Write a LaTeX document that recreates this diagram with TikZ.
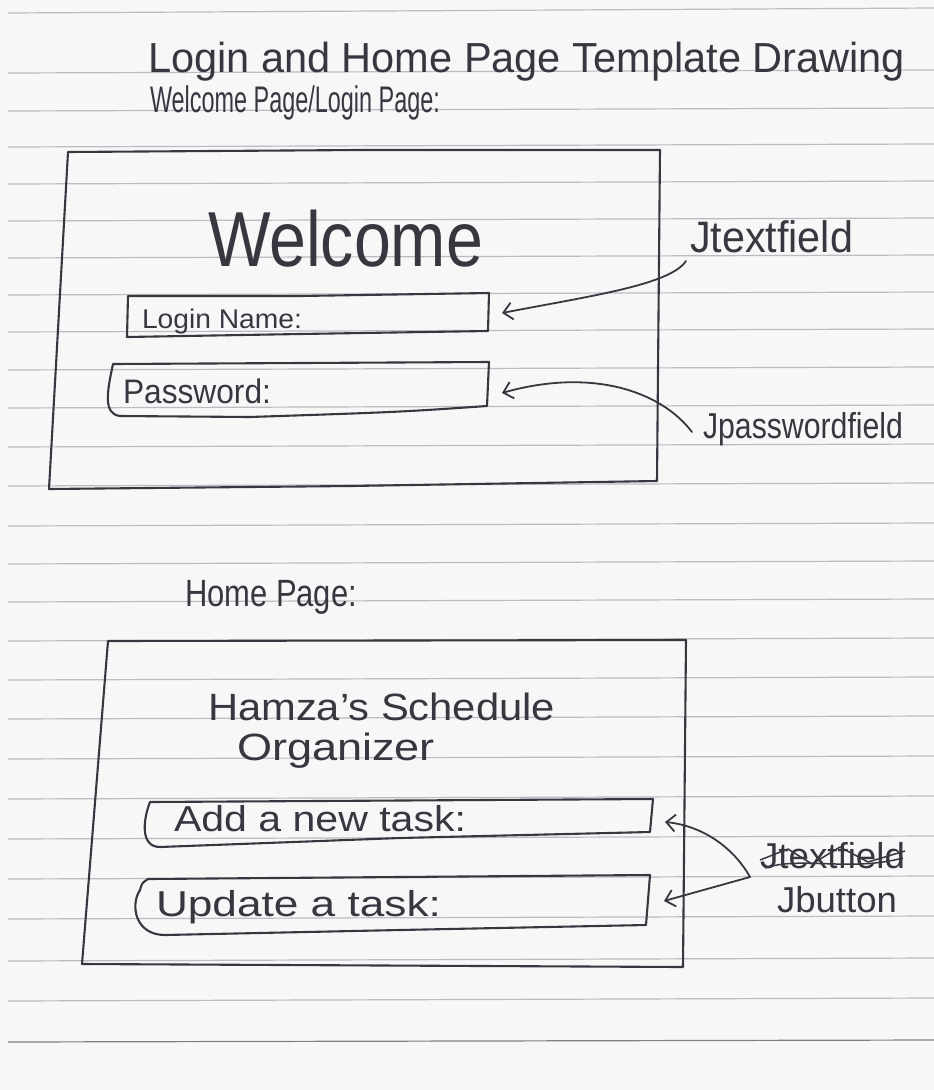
\documentclass[tikz,border=0pt]{standalone}
\usepackage{fontspec}
\setmainfont{Liberation Sans}
\usepackage{graphicx}
\usetikzlibrary{arrows.meta}
\definecolor{ink}{HTML}{3A3640}
\definecolor{rulegray}{HTML}{B9BDC2}
\definecolor{paper}{HTML}{F7F7F8}
\newcommand\hw[3]{\resizebox{#2pt}{\height}{\fontsize{#1}{#1}\selectfont #3}}
\begin{document}
\begin{tikzpicture}[x=1pt,y=-1pt,
  lbl/.style={anchor=base west,inner sep=0pt,outer sep=0pt,text=ink},
  frame/.style={draw=ink,line width=2.1pt,line join=round,line cap=round},
  ruling/.style={draw=rulegray,line width=1.2pt},
  strike/.style={draw=ink,line width=1.5pt,line join=round},
  pointer/.style={draw=ink,line width=1.8pt,line cap=round,-{Straight Barb[length=9pt,width=17pt,line width=1.8pt]}}]
\fill[paper] (0,0) rectangle (934,1090);
\useasboundingbox (0,0) rectangle (934,1090);
% ruled paper
\draw[ruling] (8,13) -- (934,8);
\foreach \yy in {73,111,147,184,221,258,295,332,370,408,447,486,526,564,602,641,680,719,759,799,839,879,919,961,1001}
  \draw[ruling] (8,\yy) -- (934,\yy-3);
\draw[ruling,draw=gray] (8,1042) -- (934,1040);

% headings
\node[lbl] (title) at (148,72) {\hw{42}{757}{Login and Home Page Template Drawing}};
\node[lbl] (sub) at (150,112) {\hw{37}{290}{Welcome Page/Login Page:}};

% login window
\draw[frame] (68,152) -- (360,150) -- (660,150) -- (657,481) -- (350,486) -- (49,489) -- cycle;
\node[lbl] (welcome) at (208,266) {\hw{78}{275}{Welcome}};
\draw[frame] (128,296) -- (300,296) -- (489,293) -- (488,331) -- (300,334) -- (127,337) -- cycle;
\node[lbl] (lname) at (142,328) {\hw{27}{160}{Login Name:}};
\draw[frame] (113,364) -- (489,362) -- (487,406) .. controls (400,412) .. (250,417) -- (120,416) .. controls (103,414) and (107,392) .. (113,364) -- cycle;
\node[lbl] (pwd) at (123,403) {\hw{34}{148}{Password:}};

\node[lbl] (jtf) at (690,252) {\hw{44}{163}{Jtextfield}};
\node[lbl] (jpf) at (703,438) {\hw{36}{200}{Jpasswordfield}};
\coordinate (lnTip) at (502,313);
\coordinate (pwTip) at (502,393);
\draw[pointer] ([shift={(-4,9)}]jtf.base west) .. controls (670,285) and (590,296) .. (lnTip);
\draw[pointer] ([shift={(-11,-6)}]jpf.base west) .. controls (660,390) and (590,368) .. (pwTip);

% home page
\node[lbl] (home) at (185,606) {\hw{38}{172}{Home Page:}};
\draw[frame] (108,641) -- (686,640) -- (683,967) -- (82,964) -- cycle;
\node[lbl] (hz) at (208,720) {\hw{38}{347}{Hamza's Schedule}};
\node[lbl] (org) at (237,760) {\hw{38}{198}{Organizer}};
\draw[frame] (150,802) -- (653,799) -- (650,832) -- (400,838) -- (160,847) .. controls (140,847) and (143,820) .. (150,802) -- cycle;
\node[lbl] (add) at (174,831) {\hw{36}{292}{Add a new task:}};
\draw[frame] (148,879) -- (650,875) -- (646,925) -- (400,930) -- (165,935) .. controls (135,935) and (130,905) .. (140,890) .. controls (142,883) .. (148,879) -- cycle;
\node[lbl] (upd) at (156,916) {\hw{36}{285}{Update a task:}};

\node[lbl] (jtx) at (760,868) {\hw{36}{145}{Jtextfield}};
\draw[strike] (760,860) -- (788,849) -- (812,864) -- (840,847) -- (868,862) -- (905,851);
\draw[strike] (765,868) .. controls (800,856) and (850,872) .. (903,858);
\node[lbl] (jb) at (777,912) {\hw{36}{120}{Jbutton}};
\coordinate (addTip) at (665,822);
\coordinate (updTip) at (664,901);
\draw[pointer] ([shift={(-10,9)}]jtx.base west) coordinate (merge) .. controls (735,850) and (705,826) .. (addTip);
\draw[pointer] (merge) -- (updTip);
\end{tikzpicture}
\end{document}
